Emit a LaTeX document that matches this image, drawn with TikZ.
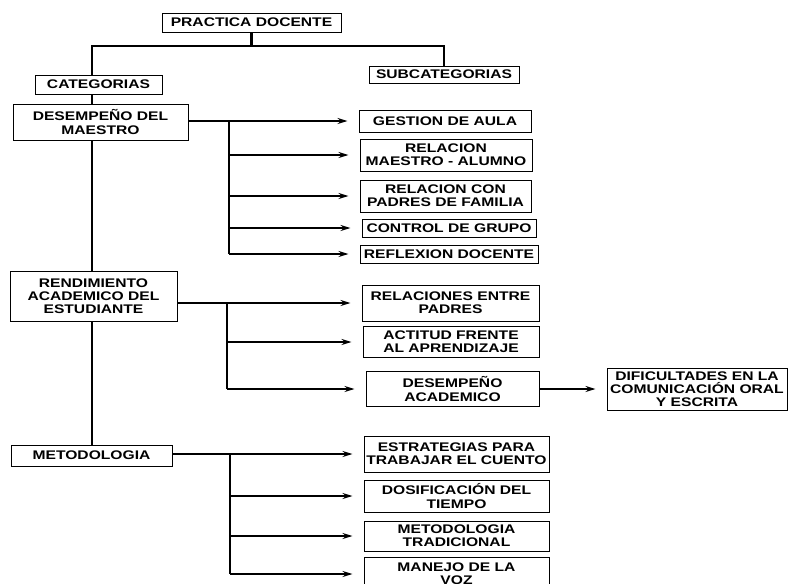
\documentclass[tikz,border=0pt]{standalone}
\usepackage{fontspec}
\setmainfont{Liberation Sans}[FakeStretch=1.25]
\usetikzlibrary{arrows.meta}

\begin{document}
\begin{tikzpicture}[x=1pt,y=-1pt,
        caja/.style 2 args={draw,line width=1pt,align=center,inner sep=1pt,
          minimum width=#1,minimum height=#2,
          font=\fontsize{12.5}{13.3}\selectfont\bfseries},
        tronco/.style={line width=2.2pt},
        flecha/.style={line width=1.6pt,-{Stealth[length=10pt,width=6pt]},shorten >=11pt}]
        \useasboundingbox (0,0) rectangle (788,584);
        \node[caja={179pt}{19pt}] (pd)     at (251.5,22.5) {PRACTICA DOCENTE};
        \node[caja={127pt}{19pt}] (cat)    at (98.5,84.5)  {CATEGORIAS};
        \node[caja={150pt}{17pt}] (subcat) at (444,74.5)   {SUBCATEGORIAS};
        \node[caja={175pt}{36pt}] (c_1)    at (100.5,122)  {DESEMPEÑO DEL\\MAESTRO};
        \node[caja={167pt}{50pt}] (c_2)    at (93.5,296)   {RENDIMIENTO\\ACADEMICO DEL\\ESTUDIANTE};
        \node[caja={161pt}{21pt}] (c_3)    at (91.5,455.5) {METODOLOGIA};
        \node[caja={172pt}{22pt}] (s_1)    at (445,121)    {GESTION DE AULA};
        \node[caja={172pt}{32pt}] (s_2)    at (446,155)    {RELACION\\MAESTRO - ALUMNO};
        \node[caja={171pt}{32pt}] (s_3)    at (445.5,196)  {RELACION CON\\PADRES DE FAMILIA};
        \node[caja={174pt}{18pt}] (s_4)    at (449,228)    {CONTROL DE GRUPO};
        \node[caja={178pt}{18pt}] (s_5)    at (449,254)    {REFLEXION DOCENTE};
        \node[caja={177pt}{36pt}] (s_6)    at (450.5,303)  {RELACIONES ENTRE\\PADRES};
        \node[caja={176pt}{31pt}] (s_7)    at (451,342)    {ACTITUD FRENTE\\AL APRENDIZAJE};
        \node[caja={173pt}{35pt}] (s_8)    at (452.5,389)  {DESEMPEÑO\\ACADEMICO};
        \node[caja={180pt}{42pt}] (dif)    at (697,389)    {DIFICULTADES EN LA\\COMUNICACIÓN ORAL\\Y ESCRITA};
        \node[caja={185pt}{36pt}] (s_9)    at (456.5,454)  {ESTRATEGIAS PARA\\TRABAJAR EL CUENTO};
        \node[caja={185pt}{32pt}] (s_10)   at (456.5,496)  {DOSIFICACIÓN DEL\\TIEMPO};
        \node[caja={185pt}{30pt}] (s_11)   at (456.5,536)  {METODOLOGIA\\TRADICIONAL};
        \node[caja={185pt}{34pt}] (s_12)   at (456.5,574)  {MANEJO DE LA\\VOZ};
        \coordinate (k) at (92,0);
        \coordinate (h) at (0,46);
        \coordinate (t_1) at (229,0);
        \coordinate (t_2) at (227,0);
        \coordinate (t_3) at (230,0);
        \draw[tronco] (pd.south) -- (pd.south |- h);
        \draw[tronco] (k |- cat.north) -- (k |- h) -- (subcat.north |- h) -- (subcat.north);
        \foreach \a/\b in {cat/c_1,c_1/c_2,c_2/c_3}
          \draw[tronco] (k |- \a.south) -- (k |- \b.north);
        \draw[tronco] (t_1 |- s_1.west) -- (t_1 |- s_5.west);
        \draw[tronco] (t_2 |- s_6.west) -- (t_2 |- s_8.west);
        \draw[tronco] (t_3 |- s_9.west) -- (t_3 |- s_12.west);
        \draw[flecha] (c_1.east |- s_1.west) -- (s_1.west);
        \draw[flecha] (c_2.east |- s_6.west) -- (s_6.west);
        \draw[flecha] (c_3.east |- s_9.west) -- (s_9.west);
        \foreach \n in {s_2,s_3,s_4,s_5}
          \draw[flecha] (t_1 |- \n.west) -- (\n.west);
        \foreach \n in {s_7,s_8}
          \draw[flecha] (t_2 |- \n.west) -- (\n.west);
        \foreach \n in {s_10,s_11,s_12}
          \draw[flecha] (t_3 |- \n.west) -- (\n.west);
        \draw[flecha] (s_8.east) -- (dif.west);
\end{tikzpicture}
\end{document}
